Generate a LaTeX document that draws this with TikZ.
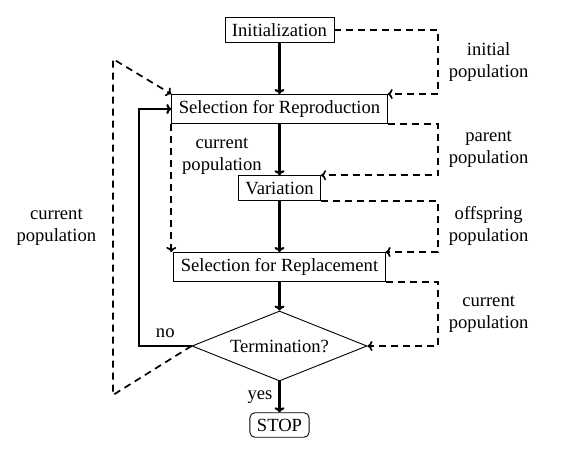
\documentclass[tikz,border=0pt]{standalone}
\usepackage{fontspec}
\setmainfont{Liberation Serif}
\usetikzlibrary{positioning,shapes.geometric,arrows.meta}

\begin{document}
\begin{tikzpicture}[node distance=79pt, font=\fontsize{18.6}{22}\selectfont,
    >={Computer Modern Rightarrow[length=5pt,width=10pt]},
    stage/.style={rectangle, draw, line width=0.9pt, inner xsep=7pt, inner ysep=6pt, text centered},
    check/.style={diamond, draw, line width=0.9pt, aspect=2.5, minimum width=175pt, minimum height=70pt, inner sep=0pt, text centered},
    halt/.style={rectangle, rounded corners=5pt, draw, line width=0.9pt, inner xsep=7pt, inner ysep=6pt},
    flow/.style={->, line width=2.1pt},
    feed/.style={->, line width=1.7pt, dash pattern=on 7pt off 5pt},
    note/.style={align=center, inner sep=3pt}]

\useasboundingbox (0,0) rectangle (571pt,-471pt);

% Main loop
\node[stage] (init) at (279.5pt,-30pt) {Initialization};
\node[stage, below of=init] (selrep) {Selection for Reproduction};
\node[stage, below of=selrep] (variation) {Variation};
\node[stage, below of=variation] (selrepl) {Selection for Replacement};
\node[check, below of=selrepl] (term) {Termination?};
\node[halt, below of=term] (stop) {STOP};

% Helper coordinates for the side lines
\coordinate (rx) at ([xshift=158.5pt]init.center);
\coordinate (lx) at ([xshift=-140.5pt]term.center);
\coordinate (ltop) at ([xshift=-166.5pt,yshift=50pt]selrep.center);
\coordinate (lbot) at ([xshift=-166.5pt,yshift=-49pt]term.center);

% Control flow
\draw[flow] (init) -- (selrep);
\draw[flow] (selrep) -- (variation);
\draw[flow] (variation) -- (selrepl);
\draw[flow] (selrepl) -- (term);
\draw[flow] (term) -- node[note, left=3pt] {yes} (stop);
\draw[flow] (term.west) -- node[note, above=4pt] {no} (lx |- term.west) |- (selrep.west);

% Population flow
\draw[feed] (init.east) -| node[note, pos=0.75, right=7pt] {initial\\population} (rx |- selrep.north east) -- (selrep.north east);
\draw[feed] (selrep.south east) -| node[note, pos=0.75, right=7pt] {parent\\population} (rx |- variation.north east) -- (variation.north east);
\draw[feed] (variation.south east) -| node[note, pos=0.75, right=7pt] {offspring\\population} (rx |- selrepl.north east) -- (selrepl.north east);
\draw[feed] (selrepl.south east) -| node[note, pos=0.75, right=7pt] {current\\population} (rx |- term.east) -- (term.east);
\draw[feed] (selrep.south west) -- node[note, pos=0.25, right=7pt] {current\\population} (selrep.south west |- selrepl.north);
\draw[feed] (term.west) -- (lbot) -- node[note, left=13pt] {current\\population} (ltop) -- (selrep.north west);

\end{tikzpicture}
\end{document}
